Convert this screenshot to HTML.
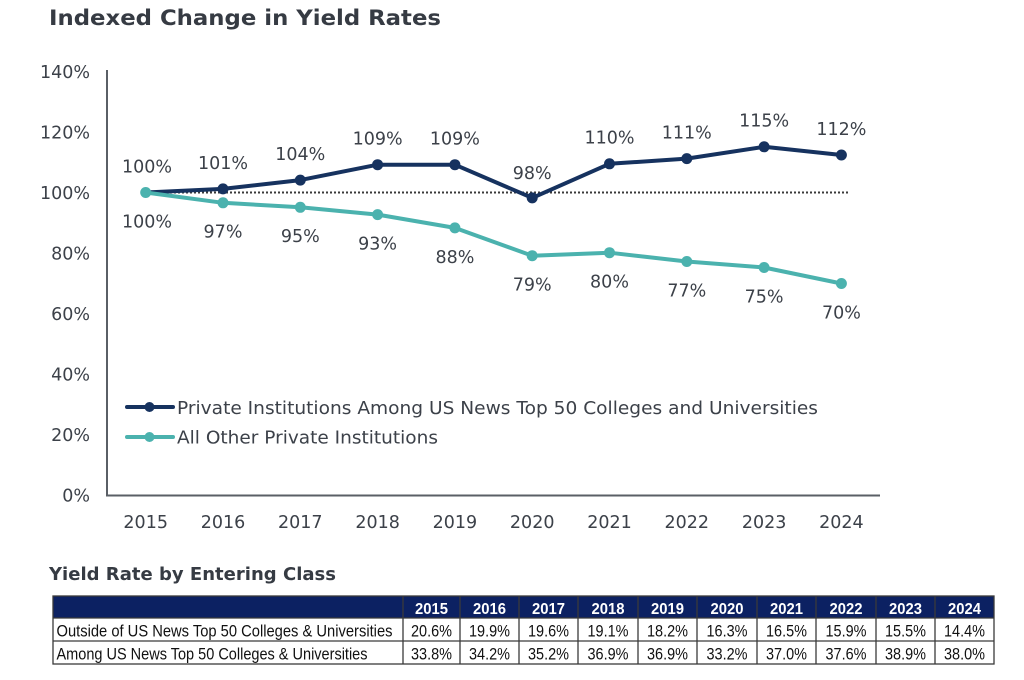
<!DOCTYPE html>
<html>
<head>
<meta charset="utf-8">
<style>
html,body{margin:0;padding:0;background:#ffffff;}
body{width:1024px;height:680px;overflow:hidden;}
svg{display:block;}
.dj{font-family:"DejaVu Sans","Liberation Sans",sans-serif;}
.lb{font-family:"Liberation Sans",Arial,sans-serif;}
</style>
</head>
<body>
<svg width="1024" height="680" viewBox="0 0 1024 680" xmlns="http://www.w3.org/2000/svg">
  <rect x="0" y="0" width="1024" height="680" fill="#ffffff"/>

  <!-- Title -->
  <text class="dj" x="49" y="25" font-size="21.5" font-weight="bold" fill="#363b43" textLength="392" lengthAdjust="spacingAndGlyphs">Indexed Change in Yield Rates</text>

  <!-- Y axis labels -->
  <g class="dj" font-size="17.5" fill="#3c4149" text-anchor="end">
    <text x="90" y="78">140%</text>
    <text x="90" y="138.5">120%</text>
    <text x="90" y="199">100%</text>
    <text x="90" y="259.5">80%</text>
    <text x="90" y="320">60%</text>
    <text x="90" y="380.5">40%</text>
    <text x="90" y="441">20%</text>
    <text x="90" y="501.5">0%</text>
  </g>

  <!-- Axes -->
  <line x1="107" y1="70" x2="107" y2="496" stroke="#5a5f66" stroke-width="2"/>
  <line x1="106" y1="495.5" x2="880" y2="495.5" stroke="#5a5f66" stroke-width="2"/>

  <!-- X axis labels -->
  <g class="dj" font-size="17.5" fill="#3c4149" text-anchor="middle">
    <text x="145.7" y="528">2015</text>
    <text x="223.0" y="528">2016</text>
    <text x="300.3" y="528">2017</text>
    <text x="377.6" y="528">2018</text>
    <text x="454.9" y="528">2019</text>
    <text x="532.2" y="528">2020</text>
    <text x="609.5" y="528">2021</text>
    <text x="686.8" y="528">2022</text>
    <text x="764.1" y="528">2023</text>
    <text x="841.4" y="528">2024</text>
  </g>

  <!-- 100% dotted reference -->
  <line x1="146" y1="192.5" x2="849" y2="192.5" stroke="#3a3a3a" stroke-width="2" stroke-dasharray="2 2"/>

  <!-- Dark series -->
  <polyline fill="none" stroke="#16325f" stroke-width="4" stroke-linejoin="round"
    points="145.7,192.5 223.0,188.9 300.3,180.1 377.6,164.7 454.9,164.7 532.2,197.9 609.5,163.8 686.8,158.6 764.1,146.8 841.4,155.0"/>
  <g fill="#16325f">
    <circle cx="223.0" cy="188.9" r="5.5"/>
    <circle cx="300.3" cy="180.1" r="5.5"/>
    <circle cx="377.6" cy="164.7" r="5.5"/>
    <circle cx="454.9" cy="164.7" r="5.5"/>
    <circle cx="532.2" cy="197.9" r="5.5"/>
    <circle cx="609.5" cy="163.8" r="5.5"/>
    <circle cx="686.8" cy="158.6" r="5.5"/>
    <circle cx="764.1" cy="146.8" r="5.5"/>
    <circle cx="841.4" cy="155.0" r="5.5"/>
  </g>

  <!-- Teal series -->
  <polyline fill="none" stroke="#4bb2ae" stroke-width="4" stroke-linejoin="round"
    points="145.7,192.5 223.0,202.8 300.3,207.3 377.6,214.6 454.9,227.9 532.2,255.7 609.5,252.7 686.8,261.5 764.1,267.5 841.4,283.5"/>
  <g fill="#4bb2ae">
    <circle cx="145.7" cy="192.5" r="5.5"/>
    <circle cx="223.0" cy="202.8" r="5.5"/>
    <circle cx="300.3" cy="207.3" r="5.5"/>
    <circle cx="377.6" cy="214.6" r="5.5"/>
    <circle cx="454.9" cy="227.9" r="5.5"/>
    <circle cx="532.2" cy="255.7" r="5.5"/>
    <circle cx="609.5" cy="252.7" r="5.5"/>
    <circle cx="686.8" cy="261.5" r="5.5"/>
    <circle cx="764.1" cy="267.5" r="5.5"/>
    <circle cx="841.4" cy="283.5" r="5.5"/>
  </g>

  <!-- Dark labels (above) -->
  <g class="dj" font-size="17.5" fill="#3c4149" text-anchor="middle">
    <text x="147" y="172.5">100%</text>
    <text x="223.0" y="169">101%</text>
    <text x="300.3" y="160">104%</text>
    <text x="377.6" y="144.5">109%</text>
    <text x="454.9" y="144.5">109%</text>
    <text x="532.2" y="179">98%</text>
    <text x="609.5" y="143.5">110%</text>
    <text x="686.8" y="138.5">111%</text>
    <text x="764.1" y="126.5">115%</text>
    <text x="841.4" y="135">112%</text>
  </g>

  <!-- Teal labels (below) -->
  <g class="dj" font-size="17.5" fill="#3c4149" text-anchor="middle">
    <text x="147" y="227.5">100%</text>
    <text x="223.0" y="237.5">97%</text>
    <text x="300.3" y="242">95%</text>
    <text x="377.6" y="249.5">93%</text>
    <text x="454.9" y="263">88%</text>
    <text x="532.2" y="290.5">79%</text>
    <text x="609.5" y="287.5">80%</text>
    <text x="686.8" y="296.5">77%</text>
    <text x="764.1" y="302.5">75%</text>
    <text x="841.4" y="318.5">70%</text>
  </g>

  <!-- Legend -->
  <line x1="127" y1="407" x2="173" y2="407" stroke="#16325f" stroke-width="4" stroke-linecap="round"/>
  <circle cx="149.5" cy="407" r="5" fill="#16325f"/>
  <text class="dj" x="177" y="414" font-size="17.5" fill="#3c4149" textLength="641" lengthAdjust="spacingAndGlyphs">Private Institutions Among US News Top 50 Colleges and Universities</text>
  <line x1="127" y1="437" x2="173" y2="437" stroke="#4bb2ae" stroke-width="4" stroke-linecap="round"/>
  <circle cx="149.5" cy="437" r="5" fill="#4bb2ae"/>
  <text class="dj" x="177" y="443.5" font-size="17.5" fill="#3c4149" textLength="261" lengthAdjust="spacingAndGlyphs">All Other Private Institutions</text>

  <!-- Table title -->
  <text class="dj" x="49" y="580" font-size="17.5" font-weight="bold" fill="#363b43" textLength="287" lengthAdjust="spacingAndGlyphs">Yield Rate by Entering Class</text>

  <!-- Table -->
  <rect x="53" y="596" width="941" height="22" fill="#0c2162"/>
  <rect x="53" y="618" width="941" height="46" fill="#ffffff"/>
  <g stroke="#3a3a3a" stroke-width="1.3" fill="none">
    <rect x="53" y="596" width="941" height="68"/>
    <line x1="53" y1="618" x2="994" y2="618"/>
    <line x1="53" y1="641" x2="994" y2="641"/>
    <line x1="403" y1="596" x2="403" y2="664"/>
    <line x1="460" y1="596" x2="460" y2="664"/>
    <line x1="519" y1="596" x2="519" y2="664"/>
    <line x1="578" y1="596" x2="578" y2="664"/>
    <line x1="638" y1="596" x2="638" y2="664"/>
    <line x1="697" y1="596" x2="697" y2="664"/>
    <line x1="757" y1="596" x2="757" y2="664"/>
    <line x1="816" y1="596" x2="816" y2="664"/>
    <line x1="876" y1="596" x2="876" y2="664"/>
    <line x1="935" y1="596" x2="935" y2="664"/>
  </g>

  <g class="lb" font-size="15.5" font-weight="bold" fill="#ffffff" text-anchor="middle">
    <text x="431.5" y="614" textLength="33" lengthAdjust="spacingAndGlyphs">2015</text>
    <text x="489.5" y="614" textLength="33" lengthAdjust="spacingAndGlyphs">2016</text>
    <text x="548.5" y="614" textLength="33" lengthAdjust="spacingAndGlyphs">2017</text>
    <text x="608" y="614" textLength="33" lengthAdjust="spacingAndGlyphs">2018</text>
    <text x="667.5" y="614" textLength="33" lengthAdjust="spacingAndGlyphs">2019</text>
    <text x="727" y="614" textLength="33" lengthAdjust="spacingAndGlyphs">2020</text>
    <text x="786.5" y="614" textLength="33" lengthAdjust="spacingAndGlyphs">2021</text>
    <text x="846" y="614" textLength="33" lengthAdjust="spacingAndGlyphs">2022</text>
    <text x="905.5" y="614" textLength="33" lengthAdjust="spacingAndGlyphs">2023</text>
    <text x="964.5" y="614" textLength="33" lengthAdjust="spacingAndGlyphs">2024</text>
  </g>

  <g class="lb" font-size="16.5" fill="#111111">
    <text x="56.5" y="636.5" textLength="336" lengthAdjust="spacingAndGlyphs">Outside of US News Top 50 Colleges &amp; Universities</text>
    <text x="56.5" y="659.5" textLength="311" lengthAdjust="spacingAndGlyphs">Among US News Top 50 Colleges &amp; Universities</text>
  </g>
  <g class="lb" font-size="16.5" fill="#111111" text-anchor="middle">
    <text x="431.5" y="636.5" textLength="41" lengthAdjust="spacingAndGlyphs">20.6%</text>
    <text x="489.5" y="636.5" textLength="41" lengthAdjust="spacingAndGlyphs">19.9%</text>
    <text x="548.5" y="636.5" textLength="41" lengthAdjust="spacingAndGlyphs">19.6%</text>
    <text x="608" y="636.5" textLength="41" lengthAdjust="spacingAndGlyphs">19.1%</text>
    <text x="667.5" y="636.5" textLength="41" lengthAdjust="spacingAndGlyphs">18.2%</text>
    <text x="727" y="636.5" textLength="41" lengthAdjust="spacingAndGlyphs">16.3%</text>
    <text x="786.5" y="636.5" textLength="41" lengthAdjust="spacingAndGlyphs">16.5%</text>
    <text x="846" y="636.5" textLength="41" lengthAdjust="spacingAndGlyphs">15.9%</text>
    <text x="905.5" y="636.5" textLength="41" lengthAdjust="spacingAndGlyphs">15.5%</text>
    <text x="964.5" y="636.5" textLength="41" lengthAdjust="spacingAndGlyphs">14.4%</text>

    <text x="431.5" y="659.5" textLength="41" lengthAdjust="spacingAndGlyphs">33.8%</text>
    <text x="489.5" y="659.5" textLength="41" lengthAdjust="spacingAndGlyphs">34.2%</text>
    <text x="548.5" y="659.5" textLength="41" lengthAdjust="spacingAndGlyphs">35.2%</text>
    <text x="608" y="659.5" textLength="41" lengthAdjust="spacingAndGlyphs">36.9%</text>
    <text x="667.5" y="659.5" textLength="41" lengthAdjust="spacingAndGlyphs">36.9%</text>
    <text x="727" y="659.5" textLength="41" lengthAdjust="spacingAndGlyphs">33.2%</text>
    <text x="786.5" y="659.5" textLength="41" lengthAdjust="spacingAndGlyphs">37.0%</text>
    <text x="846" y="659.5" textLength="41" lengthAdjust="spacingAndGlyphs">37.6%</text>
    <text x="905.5" y="659.5" textLength="41" lengthAdjust="spacingAndGlyphs">38.9%</text>
    <text x="964.5" y="659.5" textLength="41" lengthAdjust="spacingAndGlyphs">38.0%</text>
  </g>
</svg>
</body>
</html>
